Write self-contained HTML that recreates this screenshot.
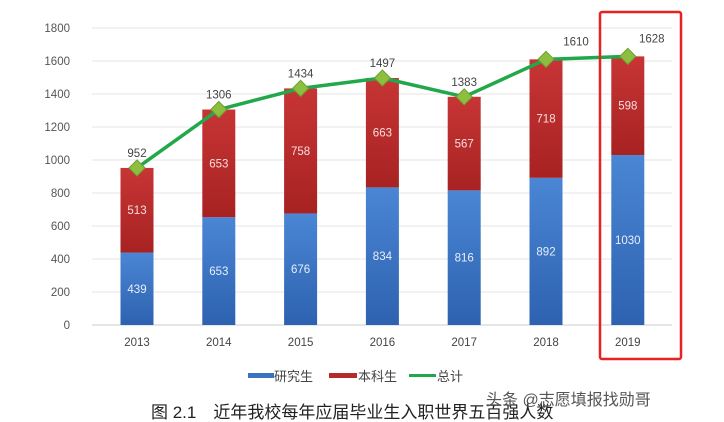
<!DOCTYPE html>
<html><head><meta charset="utf-8"><style>
body{margin:0;background:#fff;width:724px;height:422px;overflow:hidden;font-family:"Liberation Sans","Noto Sans CJK SC",sans-serif}
svg{display:block}
</style></head><body>
<svg width="724" height="422">
<defs>
<linearGradient id="gb" x1="0" x2="0" y1="0" y2="1"><stop offset="0" stop-color="#4a86d4"/><stop offset="1" stop-color="#2d62b0"/></linearGradient>
<linearGradient id="gr" x1="0" x2="0" y1="0" y2="1"><stop offset="0" stop-color="#c73535"/><stop offset="1" stop-color="#a82222"/></linearGradient>
</defs>
<g id="grid"></g><g id="bars"></g><g id="line"></g>
<rect x="600" y="12" width="81" height="347" fill="none" stroke="#e8221f" stroke-width="2.5" rx="2"/>
<g font-size="13" fill="#444">
<rect x="248" y="373" width="26" height="5" fill="#3a72c0"/>
<text x="274" y="381">研究生</text>
<rect x="329" y="373" width="28" height="5" fill="#b52a2a"/>
<text x="358" y="381">本科生</text>
<line x1="409" y1="375.5" x2="436" y2="375.5" stroke="#22a84a" stroke-width="3"/>
<text x="437" y="381">总计</text>
</g>
<text x="151" y="418" font-size="17" fill="#222">图 2.1　近年我校每年应届毕业生入职世界五百强人数</text>
<text x="486" y="405" font-size="16" fill="#555">头条 @志愿填报找勋哥</text>
</svg>
<script>
const years=["2013","2014","2015","2016","2017","2018","2019"];
const grad=[439,653,676,834,816,892,1030];
const under=[513,653,758,663,567,718,598];
const total=[952,1306,1434,1497,1383,1610,1628];
const yTicks=[0,200,400,600,800,1000,1200,1400,1600,1800];
const NS="http://www.w3.org/2000/svg";
const y=v=>325-v*(297/1800);
const x=i=>137+i*81.8;
function mk(t,a,p,txt){const e=document.createElementNS(NS,t);for(const k in a)e.setAttribute(k,a[k]);if(txt!=null)e.textContent=txt;p.appendChild(e);return e;}
const G=document.getElementById('grid'),B=document.getElementById('bars'),L=document.getElementById('line');
yTicks.forEach(v=>{
 const l=mk('line',{x1:92,x2:672,y1:y(v),y2:y(v),stroke:v===0?'#ccc':'#e6e6e6','stroke-width':1},G);
 
 
 const t=mk('text',{x:70,y:y(v)+4,'text-anchor':'end','font-size':11.5,fill:'#555'},G,v);
 
 
});
years.forEach((yr,i)=>{
 const cx=x(i),w=33;
 const r1=mk('rect',{x:cx-w/2,y:y(grad[i]),width:w,height:y(0)-y(grad[i]),fill:'url(#gb)'},B);
 
 
 const top=grad[i]+under[i];
 const r2=mk('rect',{x:cx-w/2,y:y(top),width:w,height:y(grad[i])-y(top),fill:'url(#gr)'},B);
 
 
 const t1=mk('text',{x:cx,y:(y(0)+y(grad[i]))/2+4,'text-anchor':'middle','font-size':11.5,fill:'#e8eef8'},B,grad[i]);
 
 
 const t2=mk('text',{x:cx,y:(y(grad[i])+y(top))/2+4,'text-anchor':'middle','font-size':11.5,fill:'#f6dede'},B,under[i]);
 
 
 const tx=mk('text',{x:cx,y:346,'text-anchor':'middle','font-size':11.5,fill:'#444'},B,yr);
 
 
});
const pl=mk('polyline',{points:total.map((v,i)=>x(i)+','+y(v)).join(' '),fill:'none',stroke:'#22a84a','stroke-width':3.5,'stroke-linejoin':'round'},L);


total.forEach((v,i)=>{
 const cx=x(i),cy=y(v);
 const d=mk('polygon',{points:`${cx},${cy-8} ${cx+8},${cy} ${cx},${cy+8} ${cx-8},${cy}`,fill:'#8cbf3f',stroke:'#6fa030','stroke-width':1},L);
 
 
 const t=mk('text',{x:cx+(i===6?24:(i===5?30:0)),y:cy-(i>=5?14:11),'text-anchor':'middle','font-size':11.5,fill:'#444'},L,v);
 
 
});
</script>
</body></html>
